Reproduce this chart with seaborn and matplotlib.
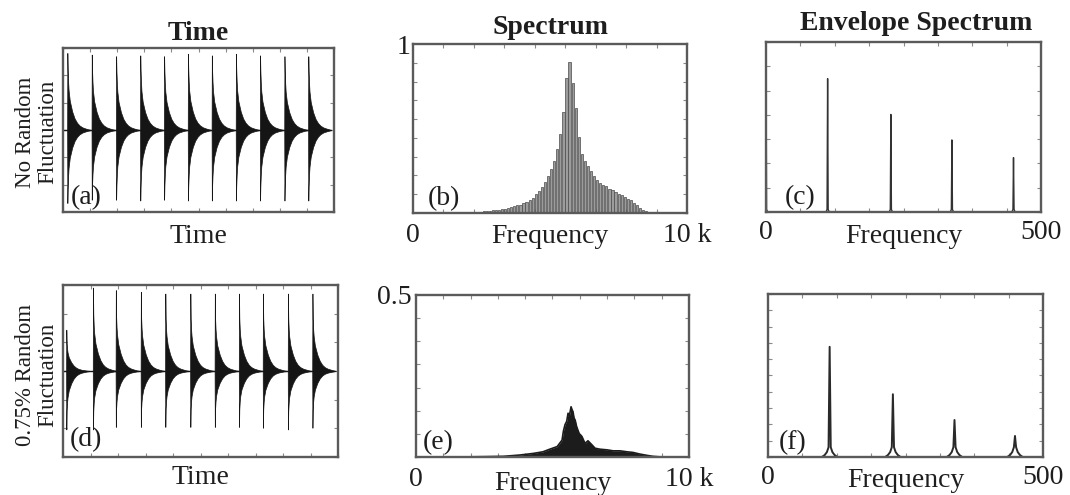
import numpy as np
import pandas as pd
import matplotlib
matplotlib.use("Agg")
import matplotlib.pyplot as plt
from matplotlib.ticker import LinearLocator, FixedLocator, NullLocator
import seaborn as sns


# ----------------------------------------------------------------------
# DATA
# ----------------------------------------------------------------------
# time signals: normalised time 0..1, amplitude -1..1
impulse_t_a = [0.016, 0.106, 0.196, 0.285, 0.373, 0.461, 0.549, 0.638, 0.727, 0.817, 0.905]
peak_up_a = [0.94, 0.92, 0.90, 0.91, 0.90, 0.93, 0.91, 0.93, 0.91, 0.90, 0.90]
peak_dn_a = [0.89, 0.85, 0.85, 0.86, 0.85, 0.86, 0.86, 0.86, 0.86, 0.86, 0.86]

impulse_t_d = [0.012, 0.109, 0.192, 0.283, 0.372, 0.463, 0.552, 0.640, 0.727, 0.818, 0.907]
peak_up_d = [0.48, 0.97, 0.94, 0.92, 0.90, 0.90, 0.90, 0.90, 0.90, 0.90, 0.90]
peak_dn_d = [0.68, 0.68, 0.65, 0.65, 0.65, 0.65, 0.65, 0.65, 0.66, 0.68, 0.66]

impact_period = 0.089
decay_offset = [0.0, 0.012, 0.03, 0.05, 0.1, 0.2, 0.3, 0.4, 0.5, 0.62, 0.75, 0.85, 0.95]
decay_a = [1.0, 0.8, 0.64, 0.52, 0.38, 0.24, 0.15, 0.095, 0.06, 0.035, 0.02, 0.01, 0.004]
decay_d = [1.0, 0.68, 0.54, 0.45, 0.33, 0.21, 0.13, 0.08, 0.05, 0.03, 0.017, 0.008, 0.003]

# spectrum (b): one line every 112 Hz, starting at line 8
spec_line_hz = 112
spec_first_line = 8
spec_b = [0.002, 0.002, 0.002, 0.003, 0.003, 0.003, 0.003, 0.003, 0.004, 0.004,
          0.004, 0.004, 0.004, 0.006, 0.007, 0.009, 0.011, 0.013, 0.015, 0.018,
          0.020, 0.022, 0.026, 0.030, 0.033, 0.039, 0.045, 0.050, 0.057, 0.067,
          0.078, 0.090, 0.110, 0.130, 0.155, 0.185, 0.220, 0.260, 0.310, 0.380,
          0.470, 0.600, 0.800, 0.895, 0.770, 0.620, 0.450, 0.350, 0.310, 0.280,
          0.250, 0.220, 0.195, 0.180, 0.168, 0.158, 0.140, 0.135, 0.125, 0.112,
          0.105, 0.095, 0.083, 0.074, 0.060, 0.045, 0.032, 0.020, 0.010, 0.004,
          0.001]

# spectrum (e): upper edge of the smeared peak
spec_e_hz = [1500, 2500, 3200, 3800, 4300, 4650, 4900, 5170, 5350, 5400, 5460,
             5520, 5570, 5620, 5680, 5720, 5750, 5790, 5830, 5880, 5930, 5980,
             6030, 6080, 6190, 6300, 6450, 6560, 6740, 7000, 7220, 7470, 7730,
             7950, 8200, 8460, 8680, 9000]
spec_e_amp = [0.0, 0.001, 0.002, 0.006, 0.011, 0.016, 0.024, 0.032, 0.052, 0.080, 0.100,
              0.110, 0.135, 0.128, 0.155, 0.145, 0.140, 0.120, 0.114, 0.095, 0.083, 0.072,
              0.068, 0.063, 0.042, 0.050, 0.037, 0.027, 0.024, 0.022, 0.019, 0.019, 0.016,
              0.014, 0.009, 0.005, 0.002, 0.0]

# envelope spectra
env_hz_c = [0, 112, 227, 338, 450]
env_amp_c = [0.92, 0.785, 0.574, 0.424, 0.32]
skirt_c_hz = [-3, -1, 0, 1, 3]
skirt_c_amp = [0.0, 0.015, 1.0, 0.015, 0.0]

env_hz_f = [112, 227, 339, 449]
env_amp_f = [0.676, 0.385, 0.227, 0.129]
skirt_f_hz = [-14, -9, -5, -2, 0, 2, 5, 9, 14]
skirt_f_amp = [0.0, 0.012, 0.03, 0.06, 1.0, 0.06, 0.03, 0.012, 0.0]


# ----------------------------------------------------------------------
# STYLE
# ----------------------------------------------------------------------
sns.set_theme(style="white")
plt.rcParams["font.family"] = ["Liberation Serif", "DejaVu Serif"]
TEXT = "#1e1e1e"
FRAME = "#5a5a5a"
FS = 20


def build_signal(times, up, dn, profile):
    rows = []
    for t0, u, d in zip(times, up, dn):
        rows.append((t0 - 0.0008, 0.0, 0.0))
        for off, v in zip(decay_offset, profile):
            rows.append((t0 + off * impact_period, u * v, -d * v))
    return pd.DataFrame(rows, columns=["t", "hi", "lo"])


def build_spikes(hz, amp, sk_hz, sk_amp):
    rows = []
    for k, (f, a) in enumerate(zip(hz, amp)):
        for off, s in zip(sk_hz, sk_amp):
            rows.append((k, f + off, a if off == 0 else s))
    return pd.DataFrame(rows, columns=["spike", "f", "a"])


def frame(ax, nx, ny, pad=4):
    for sp in ax.spines.values():
        sp.set_color(FRAME)
        sp.set_linewidth(1.7)
    ax.xaxis.set_minor_locator(LinearLocator(nx + 1))
    ax.yaxis.set_minor_locator(LinearLocator(ny + 1))
    ax.tick_params(which="minor", direction="in", length=3, width=0.8,
                   color="#8a8a8a", bottom=True, top=True, left=True, right=True)
    ax.tick_params(which="major", length=0, labelsize=FS, labelcolor=TEXT,
                   bottom=True, left=True, pad=pad)
    ax.set_xlabel("")
    ax.set_ylabel("")


def time_panel(ax, sig, letter, tail_end):
    ax.fill_between(sig["t"], sig["lo"], sig["hi"], color="#151515",
                    edgecolor="#151515", linewidth=0.5)
    zero = pd.DataFrame({"t": [0.0, tail_end], "y": [0.0, 0.0]})
    sns.lineplot(data=zero, x="t", y="y", ax=ax, color="#151515", linewidth=1.0)
    ax.set_xlim(0, 1)
    ax.set_ylim(-1, 1)
    frame(ax, 10, 6)
    ax.xaxis.set_major_locator(NullLocator())
    ax.yaxis.set_major_locator(NullLocator())
    ax.set_xlabel("Time", fontsize=FS, color=TEXT)
    ax.text(0.03, 0.01, letter, transform=ax.transAxes, fontsize=FS,
            color=TEXT, va="bottom", ha="left")


fig = plt.figure(figsize=(10.7, 4.95), dpi=100)
ax_a = fig.add_axes([0.0589, 0.5717, 0.2533, 0.3313])
ax_b = fig.add_axes([0.3860, 0.5697, 0.2561, 0.3414])
ax_c = fig.add_axes([0.7159, 0.5717, 0.2570, 0.3434])
ax_d = fig.add_axes([0.0589, 0.0768, 0.2570, 0.3475])
ax_e = fig.add_axes([0.3888, 0.0768, 0.2551, 0.3273])
ax_f = fig.add_axes([0.7178, 0.0768, 0.2570, 0.3293])

# ---- (a) / (d) time signals
time_panel(ax_a, build_signal(impulse_t_a, peak_up_a, peak_dn_a, decay_a), "(a)", 0.98)
ax_a.xaxis.set_label_coords(0.5, -0.075)
time_panel(ax_d, build_signal(impulse_t_d, peak_up_d, peak_dn_d, decay_d), "(d)", 0.985)
ax_d.xaxis.set_label_coords(0.5, -0.045)
ax_d.texts[-1].set_position((0.025, 0.03))
ax_a.set_title("Time", fontsize=FS, fontweight="bold", color=TEXT, pad=6)

fig.text(0.034, 0.733, "No Random\nFluctuation", rotation=90, fontsize=16.5,
         color=TEXT, ha="center", va="center", linespacing=1.1)
fig.text(0.034, 0.243, "0.75% Random\nFluctuation", rotation=90, fontsize=16.5,
         color=TEXT, ha="center", va="center", linespacing=1.1)

# ---- (b) spectrum, no fluctuation
freqs_b = [(spec_first_line + i) * spec_line_hz for i in range(len(spec_b))]
ax_b.bar(freqs_b, spec_b, width=80, color="#9c9c9c", edgecolor="#4a4a4a", linewidth=0.5)
ax_b.set_xlim(0, 10000)
ax_b.set_ylim(0, 1)
frame(ax_b, 9, 9, pad=7)
ax_b.xaxis.set_major_locator(FixedLocator([0, 10000]))
ax_b.set_xticklabels(["0", "10 k"])
ax_b.yaxis.set_major_locator(FixedLocator([1]))
ax_b.set_yticklabels(["1"])
ax_b.tick_params(axis="y", pad=2)
ax_b.set_xlabel("Frequency", fontsize=FS, color=TEXT)
ax_b.xaxis.set_label_coords(0.5, -0.065)
ax_b.set_title("Spectrum", fontsize=FS, fontweight="bold", color=TEXT, pad=7)
ax_b.text(0.055, 0.01, "(b)", transform=ax_b.transAxes, fontsize=FS, color=TEXT,
          va="bottom", ha="left")

# ---- (e) spectrum, 0.75 % fluctuation
spec_e = pd.DataFrame({"f": spec_e_hz, "a": spec_e_amp})
ax_e.fill_between(spec_e["f"], 0, spec_e["a"], color="#1c1c1c", linewidth=0)
sns.lineplot(data=spec_e, x="f", y="a", ax=ax_e, color="#1c1c1c", linewidth=1.2)
ax_e.set_xlim(0, 10000)
ax_e.set_ylim(0, 0.5)
frame(ax_e, 10, 7, pad=7)
ax_e.xaxis.set_major_locator(FixedLocator([0, 10000]))
ax_e.set_xticklabels(["0", "10 k"])
ax_e.yaxis.set_major_locator(FixedLocator([0.5]))
ax_e.set_yticklabels(["0.5"])
ax_e.tick_params(axis="y", pad=3)
ax_e.set_xlabel("Frequency", fontsize=FS, color=TEXT)
ax_e.xaxis.set_label_coords(0.5, -0.085)
ax_e.text(0.026, 0.01, "(e)", transform=ax_e.transAxes, fontsize=FS, color=TEXT,
          va="bottom", ha="left")

# ---- (c) / (f) envelope spectra
spikes_c = build_spikes(env_hz_c, env_amp_c, skirt_c_hz, skirt_c_amp)
sns.lineplot(data=spikes_c, x="f", y="a", units="spike", estimator=None, sort=False,
             ax=ax_c, color="#333333", linewidth=1.0)
spikes_f = build_spikes(env_hz_f, env_amp_f, skirt_f_hz, skirt_f_amp)
sns.lineplot(data=spikes_f, x="f", y="a", units="spike", estimator=None, sort=False,
             ax=ax_f, color="#2a2a2a", linewidth=1.4)

for ax, letter, lx, ny, ly in [(ax_c, "(c)", 0.069, 7, -0.07), (ax_f, "(f)", 0.04, 10, -0.065)]:
    ax.set_xlim(0, 500)
    ax.set_ylim(0, 1)
    frame(ax, 8, ny, pad=6)
    ax.xaxis.set_major_locator(FixedLocator([0, 500]))
    ax.set_xticklabels(["0", "500"])
    ax.yaxis.set_major_locator(NullLocator())
    ax.set_xlabel("Frequency", fontsize=FS, color=TEXT)
    ax.xaxis.set_label_coords(0.5, ly)
    ax.text(lx, 0.01, letter, transform=ax.transAxes, fontsize=FS, color=TEXT,
            va="bottom", ha="left")
ax_c.set_title("Envelope Spectrum", fontsize=FS, fontweight="bold", color=TEXT,
               pad=9, x=0.547)

fig.savefig("out.png", dpi=100)
